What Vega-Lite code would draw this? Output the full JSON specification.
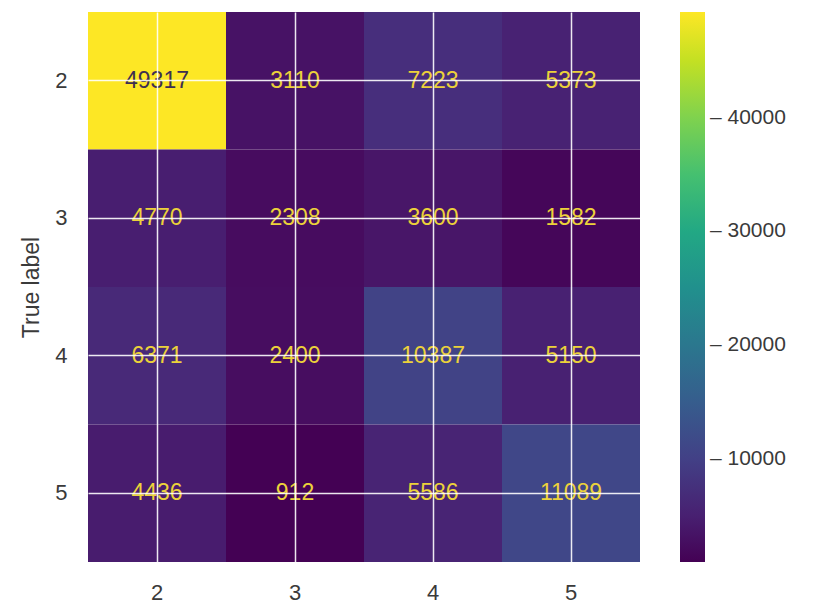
{
  "$schema": "https://vega.github.io/schema/vega-lite/v6.json",
  "width": 552,
  "height": 550,
  "autosize": {"type": "none"},
  "padding": {"left": 88, "top": 12, "right": 192, "bottom": 41},
  "background": "white",
  "config": {
    "view": {"stroke": null},
    "font": "Liberation Sans",
    "axis": {"labelFont": "Liberation Sans", "titleFont": "Liberation Sans"},
    "legend": {"labelFont": "Liberation Sans"}
  },
  "data": {
    "values": [
      {"true": "2", "pred": "2", "count": 49317},
      {"true": "2", "pred": "3", "count": 3110},
      {"true": "2", "pred": "4", "count": 7223},
      {"true": "2", "pred": "5", "count": 5373},
      {"true": "3", "pred": "2", "count": 4770},
      {"true": "3", "pred": "3", "count": 2308},
      {"true": "3", "pred": "4", "count": 3600},
      {"true": "3", "pred": "5", "count": 1582},
      {"true": "4", "pred": "2", "count": 6371},
      {"true": "4", "pred": "3", "count": 2400},
      {"true": "4", "pred": "4", "count": 10387},
      {"true": "4", "pred": "5", "count": 5150},
      {"true": "5", "pred": "2", "count": 4436},
      {"true": "5", "pred": "3", "count": 912},
      {"true": "5", "pred": "4", "count": 5586},
      {"true": "5", "pred": "5", "count": 11089}
    ]
  },
  "encoding": {
    "x": {
      "field": "pred", "type": "ordinal",
      "scale": {"paddingInner": 0, "paddingOuter": 0},
      "axis": {
        "orient": "bottom", "title": null, "ticks": false, "domain": false,
        "labelAngle": 0, "labelFontSize": 22, "labelColor": "#3a3a3a", "labelPadding": 20,
        "grid": true, "bandPosition": 0.5, "gridColor": "#ffffff", "gridWidth": 1.5, "gridOpacity": 0.9, "zindex": 1
      }
    },
    "y": {
      "field": "true", "type": "ordinal",
      "scale": {"paddingInner": 0, "paddingOuter": 0},
      "axis": {
        "title": "True label", "titleFontSize": 23, "titleFontWeight": "normal", "titleColor": "#3a3a3a", "titlePadding": 11,
        "ticks": false, "domain": false,
        "labelFontSize": 22, "labelColor": "#3a3a3a", "labelPadding": 21,
        "grid": true, "bandPosition": 0.5, "gridColor": "#ffffff", "gridWidth": 1.5, "gridOpacity": 0.9, "zindex": 1
      }
    }
  },
  "layer": [
    {
      "mark": {"type": "rect"},
      "encoding": {
        "color": {
          "field": "count", "type": "quantitative",
          "scale": {"scheme": "viridis", "domain": [912, 49317]},
          "legend": {
            "title": null, "orient": "right", "offset": 40, "padding": 0,
            "gradientLength": 550, "gradientThickness": 25, "gradientStrokeWidth": 0,
            "values": [10000, 20000, 30000, 40000], "format": "d",
            "labelExpr": "'– ' + datum.label", "labelFontSize": 21, "labelColor": "#3a3a3a", "labelOffset": 5
          }
        }
      }
    },
    {
      "mark": {"type": "text", "fontSize": 23, "font": "Liberation Sans"},
      "encoding": {
        "text": {"field": "count", "type": "quantitative", "format": "d"},
        "color": {
          "condition": {"test": "datum.count > 30000", "value": "#3d2f50"},
          "value": "#ecd23a"
        }
      }
    }
  ]
}
